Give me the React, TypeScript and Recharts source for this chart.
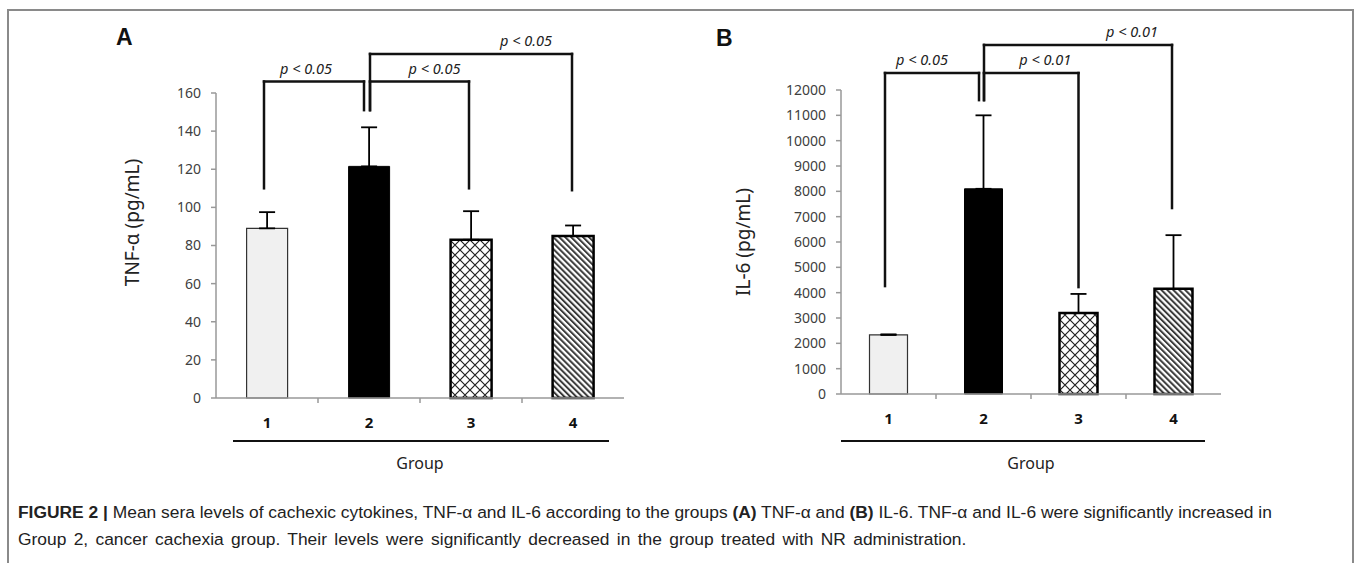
import { BarChart, Bar, XAxis, YAxis, Cell, ErrorBar, ReferenceLine } from "recharts"

// groups on the x axis
const groups = ["1", "2", "3", "4"]

// TNF-α (pg/mL): mean and upper error
const tnfMean = [89, 121.5, 83, 85]
const tnfErr = [8.5, 20.5, 15, 5.5]
const tnfTicks = [0, 20, 40, 60, 80, 100, 120, 140, 160]

// IL-6 (pg/mL): mean and upper error
const il6Mean = [2330, 8100, 3200, 4150]
const il6Err = [25, 2900, 750, 2120]
const il6Ticks = [0, 1000, 2000, 3000, 4000, 5000, 6000, 7000, 8000, 9000, 10000, 11000, 12000]

// significance brackets (values in axis units)
const tnfBrackets = [
  { from: "1", to: "2", level: 166, fromEnd: 110, toEnd: 151, label: "p < 0.05" },
  { from: "2", to: "3", level: 166, fromEnd: 151, toEnd: 110, label: "p < 0.05" },
  { from: "2", to: "4", level: 180.5, fromEnd: 151, toEnd: 109, label: "p < 0.05" },
]
const il6Brackets = [
  { from: "1", to: "2", level: 12670, fromEnd: 4260, toEnd: 11600, label: "p < 0.05" },
  { from: "2", to: "3", level: 12670, fromEnd: 11600, toEnd: 4220, label: "p < 0.01" },
  { from: "2", to: "4", level: 13780, fromEnd: 11600, toEnd: 7340, label: "p < 0.01" },
]

// pixel nudges for bracket legs and labels
const tnfNudge = [
  { fromDx: -3, toDx: -5, labelDx: -8 },
  { fromDx: 1, toDx: -2, labelDx: 15 },
  { fromDx: 1, toDx: -1, labelDx: 55 },
]
const il6Nudge = [
  { fromDx: -3.5, toDx: -4.5, labelDx: -10 },
  { fromDx: 0.5, toDx: 0, labelDx: 14 },
  { fromDx: 0.5, toDx: -1.5, labelDx: 54 },
]

const tickFont = '"Noto Sans", sans-serif'
const captionFont = '"Liberation Sans", Arial, sans-serif'
const BRACKET = "#111"

function barStyles(id: string) {
  return [
    { fill: "#f0f0f0", stroke: "#333", strokeWidth: 1.2 },
    { fill: "#000", stroke: "#000", strokeWidth: 1 },
    { fill: `url(#${id}-cross)`, stroke: "#000", strokeWidth: 2.5 },
    { fill: `url(#${id}-diag)`, stroke: "#000", strokeWidth: 2.5 },
  ]
}

function Panel({
  id,
  means,
  errs,
  ticks,
  brackets,
  nudge,
  yLabel,
  width,
  height,
  margin,
  yAxisWidth,
  yLabelDx,
  yLabelDy,
  lineDy,
  lineInset,
}: any) {
  const data = groups.map((g, i) => ({ group: g, mean: means[i], err: [0, errs[i]] }))
  const plotWidth = width - margin.left - margin.right - yAxisWidth
  const band = plotWidth / groups.length
  const styles = barStyles(id)

  const XTick = ({ x, y, payload, index }: any) => (
    <g>
      <text x={x} y={y + 30} textAnchor="middle" fontFamily={tickFont} fontSize={15} fontWeight="bold" fill="#111">
        {payload.value}
      </text>
      {index < groups.length - 1 && (
        <line x1={x + band / 2} x2={x + band / 2} y1={y} y2={y + 5} stroke="#999" strokeWidth={1.5} />
      )}
    </g>
  )

  const GroupLabel = (props: any) => {
    const vb = props.viewBox
    if (!vb) return null
    const ly = vb.y + lineDy
    return (
      <g>
        <line x1={vb.x + lineInset[0]} x2={vb.x + vb.width - lineInset[1]} y1={ly} y2={ly} stroke="#111" strokeWidth={2} />
        <text x={vb.x + vb.width / 2} y={ly + 28} textAnchor="middle" fontFamily={tickFont} fontSize={16} fill="#222">
          Group
        </text>
      </g>
    )
  }

  const YLabel = (props: any) => {
    const vb = props.viewBox
    if (!vb) return null
    const cx = vb.x + yLabelDx
    const cy = vb.y + vb.height / 2 + yLabelDy
    return (
      <text
        x={cx}
        y={cy}
        transform={`rotate(-90 ${cx} ${cy})`}
        textAnchor="middle"
        dominantBaseline="central"
        fontFamily={tickFont}
        fontSize={19}
        fill="#222"
      >
        {yLabel}
      </text>
    )
  }

  const vSeg = (dx: number) => (p: any) => (
    <line
      x1={p.x1 + dx}
      x2={p.x2 + dx}
      y1={p.y1}
      y2={p.y2}
      stroke={BRACKET}
      strokeWidth={2.5}
      strokeLinecap="square"
    />
  )

  const hSeg = (n: any, text: string) => (p: any) => (
    <g>
      <line
        x1={p.x1 + n.fromDx}
        x2={p.x2 + n.toDx}
        y1={p.y1}
        y2={p.y2}
        stroke={BRACKET}
        strokeWidth={2.5}
        strokeLinecap="square"
      />
      <text
        x={(p.x1 + n.fromDx + p.x2 + n.toDx) / 2 + n.labelDx}
        y={p.y1 - 8}
        textAnchor="middle"
        fontFamily={tickFont}
        fontStyle="italic"
        fontSize={14.5}
        fill="#222"
      >
        {text}
      </text>
    </g>
  )

  return (
    <BarChart width={width} height={height} data={data} margin={margin} barCategoryGap="30%">
      <defs>
        <pattern id={`${id}-cross`} patternUnits="userSpaceOnUse" width={10} height={10}>
          <rect width={10} height={10} fill="#fff" />
          <path d="M0,0 L10,10 M10,0 L0,10" stroke="#222" strokeWidth={1.2} />
        </pattern>
        <pattern id={`${id}-diag`} patternUnits="userSpaceOnUse" width={4.2} height={4.2} patternTransform="rotate(-45)">
          <rect width={4.2} height={4.2} fill="#fff" />
          <rect width={2} height={4.2} fill="#3a3a3a" />
        </pattern>
      </defs>
      <XAxis
        dataKey="group"
        height={60}
        axisLine={{ stroke: "#999", strokeWidth: 1.5 }}
        tickLine={false}
        tickSize={0}
        tickMargin={0}
        tick={<XTick />}
        interval={0}
        label={GroupLabel}
      />
      <YAxis
        width={yAxisWidth}
        domain={[ticks[0], ticks[ticks.length - 1]]}
        ticks={ticks}
        interval={0}
        axisLine={{ stroke: "#999", strokeWidth: 1.5 }}
        tickLine={{ stroke: "#999", strokeWidth: 1.5 }}
        tickSize={5}
        tickMargin={10}
        tick={{ fontFamily: tickFont, fontSize: 14, fill: "#404040" }}
        label={YLabel}
      />
      <Bar dataKey="mean" isAnimationActive={false}>
        {data.map((d, i) => (
          <Cell key={d.group} fill={styles[i].fill} stroke={styles[i].stroke} strokeWidth={styles[i].strokeWidth} />
        ))}
        <ErrorBar dataKey="err" direction="y" width={8} stroke="#000" strokeWidth={1.8} isAnimationActive={false} />
      </Bar>
      {brackets.map((b: any, i: number) => [
        <ReferenceLine
          key={`l${i}`}
          ifOverflow="visible"
          segment={[
            { x: b.from, y: b.fromEnd },
            { x: b.from, y: b.level },
          ]}
          shape={vSeg(nudge[i].fromDx)}
        />,
        <ReferenceLine
          key={`h${i}`}
          ifOverflow="visible"
          segment={[
            { x: b.from, y: b.level },
            { x: b.to, y: b.level },
          ]}
          shape={hSeg(nudge[i], b.label)}
        />,
        <ReferenceLine
          key={`r${i}`}
          ifOverflow="visible"
          segment={[
            { x: b.to, y: b.level },
            { x: b.to, y: b.toEnd },
          ]}
          shape={vSeg(nudge[i].toDx)}
        />,
      ])}
    </BarChart>
  )
}

const letterStyle: any = {
  position: "absolute",
  fontFamily: captionFont,
  fontWeight: "bold",
  fontSize: 23,
  lineHeight: 1,
  color: "#111",
}

export default function App() {
  return (
    <div style={{ position: "fixed", left: 0, top: 0, width: 1354, height: 563, background: "#fff", overflow: "hidden" }}>
      <div
        style={{
          position: "absolute",
          left: 7,
          top: 9,
          width: 1347,
          height: 620,
          boxSizing: "border-box",
          border: "2px solid #8a8a8a",
        }}
      />
      <div style={{ ...letterStyle, left: 116, top: 26 }}>A</div>
      <div style={{ ...letterStyle, left: 716, top: 27 }}>B</div>
      <div style={{ position: "absolute", left: 0, top: 0 }}>
        <Panel
          id="tnf"
          means={tnfMean}
          errs={tnfErr}
          ticks={tnfTicks}
          brackets={tnfBrackets}
          nudge={tnfNudge}
          yLabel="TNF-α (pg/mL)"
          width={640}
          height={480}
          margin={{ top: 93, right: 16, left: 156, bottom: 22 }}
          yAxisWidth={60}
          yLabelDx={-24}
          yLabelDy={-23}
          lineDy={43}
          lineInset={[17, 15]}
        />
      </div>
      <div style={{ position: "absolute", left: 680, top: 0 }}>
        <Panel
          id="il6"
          means={il6Mean}
          errs={il6Err}
          ticks={il6Ticks}
          brackets={il6Brackets}
          nudge={il6Nudge}
          yLabel="IL-6 (pg/mL)"
          width={560}
          height={480}
          margin={{ top: 90, right: 19, left: 71, bottom: 26 }}
          yAxisWidth={90}
          yLabelDx={-8}
          yLabelDy={0}
          lineDy={47}
          lineInset={[0, 16]}
        />
      </div>
      <div
        style={{
          position: "absolute",
          left: 18,
          top: 499,
          whiteSpace: "nowrap",
          fontFamily: captionFont,
          fontSize: 17.4,
          lineHeight: "27px",
          color: "#222",
        }}
      >
        <div>
          <b>FIGURE 2 |</b> Mean sera levels of cachexic cytokines, TNF-α and IL-6 according to the groups <b>(A)</b>{" "}
          TNF-α and <b>(B)</b> IL-6. TNF-α and IL-6 were significantly increased in
        </div>
        <div style={{ wordSpacing: 2.5 }}>
          Group 2, cancer cachexia group. Their levels were significantly decreased in the group treated with NR
          administration.
        </div>
      </div>
    </div>
  )
}
